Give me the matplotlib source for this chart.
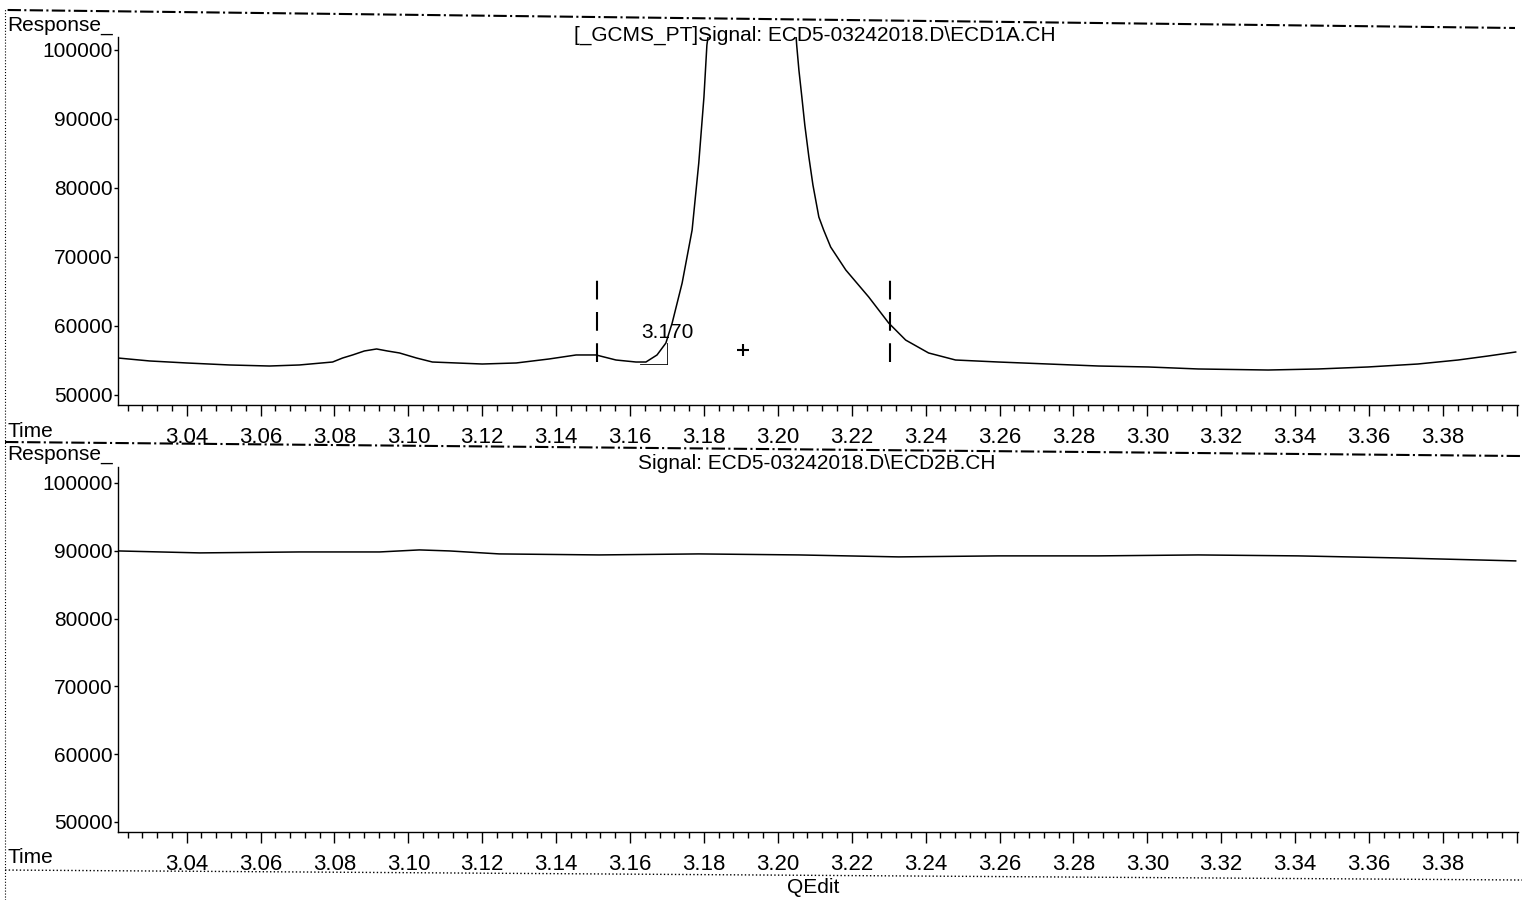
import matplotlib
matplotlib.use("Agg")
import matplotlib.pyplot as plt
from matplotlib.lines import Line2D
from matplotlib.ticker import MultipleLocator

plt.rcParams['font.family'] = ['Liberation Sans', 'DejaVu Sans']

# ECD1A channel (top)
time_a = [3.0214, 3.0300, 3.0400, 3.0516, 3.0624, 3.0705, 3.0795, 3.0822, 3.0849, 3.0881,
          3.0914, 3.0943, 3.0976, 3.1022, 3.1065, 3.1200, 3.1292, 3.1381, 3.1454, 3.1508,
          3.1562, 3.1616, 3.1643, 3.1673, 3.1697, 3.1714, 3.1741, 3.1768, 3.1786, 3.1800,
          3.1808, 3.1811, 3.1850, 3.1925, 3.2000, 3.2051, 3.2057, 3.2065, 3.2073, 3.2084,
          3.2095, 3.2111, 3.2124, 3.2143, 3.2184, 3.2246, 3.2300, 3.2346, 3.2408, 3.2481,
          3.2597, 3.2732, 3.2868, 3.3003, 3.3138, 3.3327, 3.3462, 3.3597, 3.3732, 3.3841,
          3.3922, 3.3997]
resp_a = [55360, 54930, 54640, 54350, 54200, 54350, 54780, 55360, 55800, 56380,
          56670, 56380, 56090, 55360, 54780, 54490, 54640, 55220, 55800, 55800,
          55070, 54780, 54780, 55800, 57530, 60430, 66230, 73910, 83620, 93180,
          100720, 101870, 140000, 185000, 140000, 100720, 97100, 93180, 89120, 84490,
          80430, 75790, 73910, 71440, 68110, 64200, 60430, 57960, 56090, 55070,
          54780, 54490, 54200, 54060, 53770, 53620, 53770, 54060, 54490, 55070,
          55650, 56230]

# ECD2B channel (bottom)
time_b = [3.0214, 3.0435, 3.0705, 3.0922, 3.1030, 3.1111, 3.1246, 3.1516, 3.1786, 3.2057,
          3.2327, 3.2597, 3.2868, 3.3138, 3.3408, 3.3678, 3.3997]
resp_b = [89970, 89680, 89820, 89820, 90120, 89970, 89530, 89380, 89530, 89380,
          89090, 89240, 89240, 89380, 89240, 88940, 88500]

# integration marks
peak_rt = 3.170
peak_start = 3.1511
peak_end = 3.2303
apex_mark = (3.1905, 56520)

xticks = [3.04, 3.06, 3.08, 3.10, 3.12, 3.14, 3.16, 3.18, 3.20, 3.22, 3.24, 3.26, 3.28,
          3.30, 3.32, 3.34, 3.36, 3.38, 3.40]
xticklabels = ["%.2f" % t for t in xticks[:-1]] + [""]
yticks = [50000, 60000, 70000, 80000, 90000, 100000]

FS = 15

fig = plt.figure(figsize=(15.22, 9), dpi=100)
ax1 = fig.add_axes([0.0775, 0.55, 0.9198, 0.4089])
ax2 = fig.add_axes([0.0775, 0.0756, 0.9198, 0.4056])


def style(ax, ylo, yhi):
    ax.set_xlim(3.0214, 3.4003)
    ax.set_ylim(ylo, yhi)
    for s in ['top', 'right']:
        ax.spines[s].set_visible(False)
    for s in ['left', 'bottom']:
        ax.spines[s].set_linewidth(1.0)
    ax.set_xticks(xticks)
    ax.set_xticklabels(xticklabels)
    ax.xaxis.set_minor_locator(MultipleLocator(0.004))
    ax.set_yticks(yticks)
    ax.set_yticklabels([str(v) for v in yticks])
    ax.tick_params(axis='x', which='major', direction='out', length=8, width=1, pad=8, labelsize=16)
    ax.tick_params(axis='x', which='minor', direction='out', length=4, width=1)
    ax.tick_params(axis='y', which='major', direction='out', length=3, width=1, pad=1, labelsize=FS)


style(ax1, 48550, 101880)
style(ax2, 48525, 102360)

ax1.plot(time_a, resp_a, color='black', lw=1.1)
ax2.plot(time_b, resp_b, color='black', lw=1.1)

# peak integration markers
for xv in [peak_start, peak_end]:
    ax1.plot([xv, xv], [54780, 67200], color='black', lw=1.5, dashes=(9, 6))
ax1.plot([3.1627, peak_rt], [54490, 54490], color='black', lw=0.6)
ax1.plot([peak_rt, peak_rt], [54490, 57530], color='black', lw=0.6)
ax1.text(peak_rt, 59000, "%.3f" % peak_rt, fontsize=FS, ha='center', va='center')
ax1.plot([apex_mark[0]], [apex_mark[1]], marker='+', color='black', ms=8, mew=1.5)

# titles
fig.text(0.5355, 0.961, "[_GCMS_PT]Signal: ECD5-03242018.D\\ECD1A.CH", fontsize=FS,
         ha='center', va='center')
fig.text(0.5365, 0.4855, "Signal: ECD5-03242018.D\\ECD2B.CH", fontsize=FS,
         ha='center', va='center')

# axis captions
fig.text(0.005, 0.966, "Response_", fontsize=FS, ha='left', va='baseline')
fig.text(0.005, 0.4895, "Response_", fontsize=FS, ha='left', va='baseline')
fig.text(0.005, 0.514, "Time", fontsize=FS, ha='left', va='baseline')
fig.text(0.005, 0.041, "Time", fontsize=FS, ha='left', va='baseline')
fig.text(0.534, 0.003, "QEdit", fontsize=FS, ha='center', va='bottom')

# page separators from the printout
fig.add_artist(Line2D([0.005, 0.9954], [0.9889, 0.9689], transform=fig.transFigure,
                      color='black', lw=1.5, linestyle='-.'))
fig.add_artist(Line2D([0.0033, 1.0], [0.5089, 0.4933], transform=fig.transFigure,
                      color='black', lw=1.5, linestyle='-.'))
fig.add_artist(Line2D([0.0033, 1.0], [0.0333, 0.0222], transform=fig.transFigure,
                      color='black', lw=1.0, linestyle=':'))
fig.add_artist(Line2D([0.0033, 0.0033], [0.0, 0.99], transform=fig.transFigure,
                      color='black', lw=0.8, linestyle=':'))

fig.savefig("out.png", dpi=100)
